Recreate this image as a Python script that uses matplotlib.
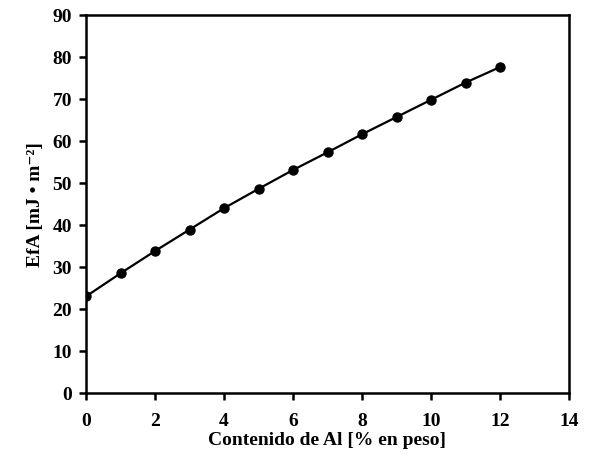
import numpy as np
import matplotlib.pyplot as plt

# contenido de Al vs EfA
al_pct = [0, 1, 2, 3, 4, 5, 6, 7, 8, 9, 10, 11, 12]
efa = [23.0, 28.5, 33.8, 38.9, 44.0, 48.6, 53.1, 57.3, 61.6, 65.7, 69.8, 73.9, 77.6]

plt.rcParams['font.family'] = ['Liberation Serif', 'DejaVu Serif']
plt.rcParams['font.weight'] = 'bold'

fig = plt.figure(figsize=(6.08, 4.64), dpi=100)
ax = fig.add_axes([86/608, 70/464, 483/608, 378/464])

ax.plot(al_pct, efa, color='black', lw=1.6, marker='o', ms=6.5)

ax.set_xlim(0, 14)
ax.set_ylim(0, 90)
ax.set_xticks(np.arange(0, 15, 2))
ax.set_yticks(np.arange(0, 91, 10))
ax.tick_params(direction='out', length=5, width=1.8, labelsize=14, pad=9)
ax.tick_params(axis='y', pad=5)
for s in ax.spines.values():
    s.set_linewidth(1.8)

ax.set_xlabel('Contenido de Al [% en peso]', fontsize=14, fontweight='bold', labelpad=1)
ax.set_ylabel('EfA [mJ \u2022 m\u207b\u00b2]', fontsize=14, fontweight='bold', labelpad=6)

fig.savefig('out.png', dpi=100)
